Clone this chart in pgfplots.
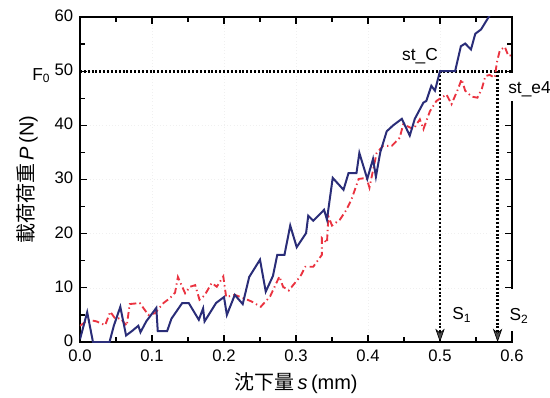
\documentclass[border=0pt]{standalone}
\usepackage{fontspec}
\setmainfont{Liberation Sans}
\newfontfamily\jp{Noto Sans CJK JP}
\usepackage{pgfplots}
\pgfplotsset{compat=1.18}
\usetikzlibrary{arrows.meta}
\definecolor{navyline}{HTML}{2A2D78}
\definecolor{redline}{HTML}{EA3340}
\begin{document}
\fontsize{12}{14}\selectfont
\begin{tikzpicture}
\useasboundingbox (-60pt,-41.25pt) rectangle (352.5pt,256.5pt);
\begin{axis}[
  scale only axis, width=324pt, height=243.75pt,
  at={(0,0)}, anchor=south west,
  xmin=0, xmax=0.6, ymin=0, ymax=60,
  xtick={0,0.1,...,0.6}, ytick={0,10,...,60},
  minor xtick={0.05,0.15,...,0.55}, minor ytick={5,15,...,55},
  xticklabel style={/pgf/number format/fixed,/pgf/number format/fixed zerofill,/pgf/number format/precision=1,yshift=-1.5pt},
  yticklabel style={xshift=-1pt,yshift=1pt},
  /pgf/number format/assume math mode=true,
  tick label style={font=\fontsize{12.5}{14}\selectfont},
  tick align=inside, major tick length=5pt, minor tick length=3.5pt,
  every tick/.style={black, line width=0.9pt},
  axis line style={line width=1.1pt},
  grid=major, major grid style={black!6, dotted},
  xlabel={{\jp 沈下量}\,\textit{s}\,(mm)},
  ylabel={{\jp 載荷荷重}\,\textit{P}\,(N)},
  every axis x label/.style={at={(axis description cs:0.5,-0.126)}, anchor=center, font=\fontsize{15}{17}\selectfont},
  every axis y label/.style={at={(axis description cs:-0.122,0.5)}, anchor=center, rotate=90, font=\fontsize{15}{17}\selectfont},
  clip=true,
]
% dotted guide lines
\addplot[black, line width=2.1pt, dash pattern=on 1.5pt off 1.4pt] coordinates {(0,50) (0.6,50)};
\addplot[black, line width=2.1pt, dash pattern=on 1.5pt off 1.4pt, -{Stealth[length=10pt,width=7pt,inset=3pt,fill=black!70,line width=0.5pt]}] coordinates {(0.5,50) (0.5,0)};
\addplot[black, line width=2.1pt, dash pattern=on 1.5pt off 1.4pt, -{Stealth[length=10pt,width=7pt,inset=3pt,fill=black!70,line width=0.5pt]}] coordinates {(0.58,50) (0.58,0)};
% red dash-dot series (st_e4)
\addplot[redline, line width=1.4pt, dash pattern=on 5pt off 2.5pt on 1pt off 2.5pt] coordinates {
(0.000,3) (0.012,4.1) (0.023,3.8) (0.035,3.1) (0.042,5.6) (0.049,4.3) (0.056,4.4) (0.065,3)
(0.069,7) (0.083,7.2) (0.095,5) (0.104,5.3) (0.116,7.2) (0.125,8.1) (0.132,9.1) (0.136,12)
(0.146,9) (0.153,10.2) (0.160,10.5) (0.166,7.8) (0.173,8.6) (0.183,10.9) (0.190,10.2) (0.199,12.1)
(0.203,8.3) (0.215,8.7) (0.227,8.1) (0.238,7.5) (0.251,6.5) (0.264,8.4) (0.277,12.1) (0.282,10.2)
(0.290,9.5) (0.296,10.5) (0.306,12.1) (0.313,13.9) (0.324,13.9) (0.336,16.1) (0.336,19.2) (0.343,18.3)
(0.345,23.2) (0.350,21.5) (0.361,22.6) (0.370,24.4) (0.377,26.3) (0.387,30.1) (0.398,30.3) (0.402,28.5)
(0.412,34.9) (0.421,36.2) (0.433,36.2) (0.444,37.7) (0.449,40.2) (0.463,39.3) (0.472,41.1) (0.477,39.3)
(0.486,42.6) (0.495,44.5) (0.509,45.7) (0.516,43.9) (0.525,46.7) (0.530,48.5) (0.535,46.4) (0.544,45.3)
(0.552,45.1) (0.558,46.7) (0.563,49.1) (0.569,49.3) (0.576,48.8) (0.579,51.6) (0.583,53.8) (0.590,54.5)
(0.595,52.8) (0.600,53)
};
% blue solid series (st_C)
\addplot[navyline, line width=1.5pt] coordinates {
(0.000,0.5) (0.010,5.5) (0.018,0) (0.041,0) (0.047,3) (0.056,6.5) (0.064,1.2) (0.072,2)
(0.081,3) (0.084,1.8) (0.092,3.8) (0.101,5.4) (0.106,6.3) (0.108,2) (0.121,2) (0.127,4.3)
(0.142,7.2) (0.151,7.2) (0.165,4.1) (0.171,6.2) (0.173,3.8) (0.189,7.2) (0.200,8.3) (0.204,5)
(0.215,8.7) (0.226,7) (0.235,12) (0.250,15.2) (0.258,9.3) (0.268,12.2) (0.274,16.1) (0.284,16.1)
(0.292,21.5) (0.301,17.5) (0.314,20.1) (0.317,23.3) (0.324,22.4) (0.339,24.4) (0.343,22.6) (0.351,30.3)
(0.366,28.1) (0.373,31.2) (0.384,31.2) (0.388,34.9) (0.399,30.1) (0.407,33.8) (0.411,30.5) (0.417,35)
(0.426,38.9) (0.435,40) (0.447,41.2) (0.458,38.1) (0.465,41.2) (0.477,44.2) (0.481,44.5) (0.488,47.3)
(0.493,46.4) (0.500,50) (0.521,50) (0.529,54.6) (0.535,55.1) (0.543,54) (0.549,56.9) (0.557,57.7)
(0.563,59) (0.570,60.5) (0.575,61)
};
\end{axis}
% gaps in the right spine for the st_e4 and S2 labels
\fill[white] (320.4pt,180.6pt) rectangle (326pt,201.9pt);
\fill[white] (320.4pt,8.1pt) rectangle (326pt,39.6pt);
% annotations
\node[anchor=base, font=\fontsize{13}{15}\selectfont, inner sep=0pt] at (255pt,211pt) {st\_C};
\node[anchor=base west, font=\fontsize{13}{15}\selectfont, inner sep=0pt] at (321pt,186.5pt) {st\_e4};
\node[anchor=base west, font=\fontsize{13}{15}\selectfont, inner sep=0pt] at (279pt,17pt) {S\textsubscript{\fontsize{9}{10}\selectfont 1}};
\node[anchor=base west, font=\fontsize{13}{15}\selectfont, inner sep=0pt] at (322pt,16pt) {S\textsubscript{\fontsize{9}{10}\selectfont 2}};
\node[anchor=base, font=\fontsize{13}{15}\selectfont, inner sep=0pt] at (-29pt,196.5pt) {F\textsubscript{\fontsize{9}{10}\selectfont 0}};
\end{tikzpicture}
\end{document}
